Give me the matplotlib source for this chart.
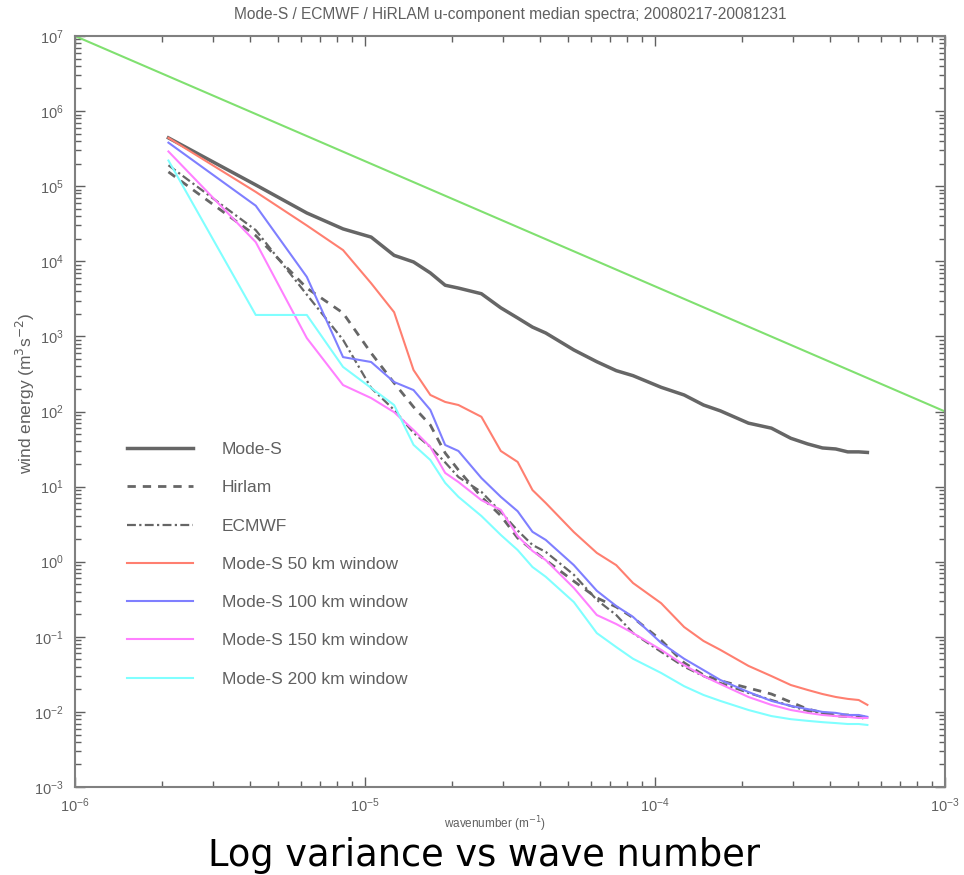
import numpy as np
import matplotlib
matplotlib.use("Agg")
import matplotlib.pyplot as plt
from matplotlib.ticker import LogLocator, NullFormatter

# wavenumber grid (m^-1)
wavenumber = [2.1e-6, 4.2e-6, 6.3e-6, 8.4e-6, 1.05e-5, 1.26e-5, 1.47e-5, 1.68e-5,
              1.89e-5, 2.1e-5, 2.52e-5, 2.94e-5, 3.36e-5, 3.78e-5, 4.2e-5, 5.25e-5,
              6.3e-5, 7.35e-5, 8.4e-5, 1.05e-4, 1.26e-4, 1.47e-4, 1.68e-4, 2.1e-4,
              2.52e-4, 2.94e-4, 3.36e-4, 3.78e-4, 4.2e-4, 4.62e-4, 5.04e-4, 5.4e-4]

mode_s = [4.4e5, 1.04e5, 4.4e4, 2.7e4, 2.1e4, 1.2e4, 9.8e3, 7.0e3, 4.8e3, 4.4e3,
          3.7e3, 2.4e3, 1.76e3, 1.33e3, 1.11e3, 6.6e2, 4.6e2, 3.5e2, 3.0e2, 2.1e2,
          1.66e2, 1.22e2, 1.02e2, 70, 60, 44, 37, 32.7, 31.7, 29, 29, 28.5]
hirlam = [1.55e5, 2.2e4, 4.4e3, 2.05e3, 6.0e2, 2.4e2, 1.15e2, 66, 28, 16.6,
          7.3, 4.1, 2.07, 1.43, 1.05, 0.55, 0.33, 0.25, 0.18, 0.09,
          0.045, 0.031, 0.026, 0.0208, 0.0173, 0.0135, 0.0109, 0.0098, 0.0091, 0.0091, 0.0088, 0.0078]
ecmwf = [1.9e5, 2.6e4, 3.6e3, 9.0e2, 2.06e2, 1.05e2, 52, 33.7, 21, 13.4,
         8.5, 4.6, 2.6, 1.67, 1.35, 0.67, 0.31, 0.195, 0.112, 0.063,
         0.040, 0.030, 0.0243, 0.0179, 0.0144, 0.0120, 0.0103, 0.0095, 0.0088, 0.0086, 0.0086, 0.0086]
win50 = [4.4e5, 8.4e4, 3.0e4, 1.41e4, 5.1e3, 2.1e3, 3.57e2, 1.66e2, 1.34e2, 1.22e2,
         85, 29.8, 21.3, 9.0, 6.05, 2.48, 1.31, 0.90, 0.52, 0.28,
         0.135, 0.088, 0.067, 0.041, 0.030, 0.0228, 0.0196, 0.0173, 0.0158, 0.0149, 0.0144, 0.0124]
win100 = [3.8e5, 5.5e4, 6.2e3, 5.3e2, 4.56e2, 2.47e2, 1.93e2, 1.05e2, 35.8, 29.8,
          13.0, 7.3, 4.7, 2.5, 1.95, 0.90, 0.41, 0.257, 0.184, 0.083,
          0.051, 0.036, 0.0266, 0.0184, 0.0140, 0.0120, 0.0109, 0.0100, 0.0097, 0.0091, 0.0091, 0.0086]
win150 = [2.9e5, 1.8e4, 9.5e2, 2.25e2, 1.51e2, 98, 56.7, 33.7, 15.2, 11.5,
          6.6, 4.9, 2.2, 1.39, 1.05, 0.447, 0.195, 0.148, 0.112, 0.067,
          0.042, 0.030, 0.0235, 0.0158, 0.0124, 0.0106, 0.0097, 0.0091, 0.0088, 0.0086, 0.0083, 0.0083]
win200 = [2.2e5, 1.93e3, 1.93e3, 3.92e2, 2.06e2, 1.22e2, 36, 22.6, 11.2, 7.3,
          4.06, 2.27, 1.43, 0.85, 0.63, 0.29, 0.112, 0.073, 0.051, 0.033,
          0.022, 0.0168, 0.0140, 0.0106, 0.0088, 0.0080, 0.0076, 0.0073, 0.0071, 0.0069, 0.0069, 0.0067]

# -5/3 reference line
ref_k = [1e-6, 1e-3]
ref_e = [1e7, 1e2]

grey = '#606060'
plt.rcParams['font.family'] = ['Liberation Sans', 'DejaVu Sans']

fig = plt.figure(figsize=(9.64, 8.75), dpi=100)
ax = fig.add_axes([75 / 964, 1 - 787 / 875, 870 / 964, 751 / 875])

ax.plot(ref_k, ref_e, color='#80e070', lw=1.5)
ax.plot(wavenumber, mode_s, color='#666666', lw=2.5, label='Mode-S')
ax.plot(wavenumber, hirlam, color='#666666', lw=2, ls=(0, (3, 2.5)), label='Hirlam')
ax.plot(wavenumber, ecmwf, color='#666666', lw=1.6, ls=(0, (4, 1.5, 1, 1.5)), label='ECMWF')
ax.plot(wavenumber, win50, color='#ff7f70', lw=1.5, label='Mode-S 50 km window')
ax.plot(wavenumber, win100, color='#7f7fff', lw=1.5, label='Mode-S 100 km window')
ax.plot(wavenumber, win150, color='#ff80ff', lw=1.5, label='Mode-S 150 km window')
ax.plot(wavenumber, win200, color='#80ffff', lw=1.5, label='Mode-S 200 km window')

ax.set_xscale('log')
ax.set_yscale('log')
ax.set_xlim(1e-6, 1e-3)
ax.set_ylim(1e-3, 1e7)

for a in (ax.xaxis, ax.yaxis):
    a.set_major_locator(LogLocator(base=10, numticks=100))
    a.set_minor_locator(LogLocator(base=10, subs=np.arange(2, 10), numticks=100))
    a.set_minor_formatter(NullFormatter())

ax.tick_params(which='both', direction='in', top=True, right=True, colors=grey,
               labelcolor=grey, labelsize=10.5)
ax.tick_params(which='major', length=7, width=1)
ax.tick_params(which='minor', length=4, width=1)
ax.tick_params(axis='y', pad=8)
ax.tick_params(axis='x', pad=7)
for s in ax.spines.values():
    s.set_color('#808080')
    s.set_linewidth(1.5)

leg = ax.legend(loc='upper left', bbox_to_anchor=(52 / 870, 345 / 751), frameon=False,
                borderaxespad=0, borderpad=0, fontsize=12.5, handlelength=3.8,
                handletextpad=1.67, labelspacing=1.33)
for t in leg.get_texts():
    t.set_color(grey)

fig.text(510 / 964, 1 - 14 / 875,
         'Mode-S / ECMWF / HiRLAM u-component median spectra; 20080217-20081231',
         ha='center', va='center', fontsize=11.2, color=grey)
fig.text(25 / 964, 1 - 393 / 875, r'wind energy (m$^3$s$^{-2}$)', rotation=90,
         ha='center', va='center', fontsize=12.5, color=grey)
fig.text(495 / 964, 1 - 824 / 875, r'wavenumber (m$^{-1}$)',
         ha='center', va='center', fontsize=8.5, color=grey)
fig.text(484 / 964, 1 - 856 / 875, 'Log variance vs wave number', family='DejaVu Sans',
         ha='center', va='center', fontsize=26.5, color='black')

fig.savefig('out.png', dpi=100)
